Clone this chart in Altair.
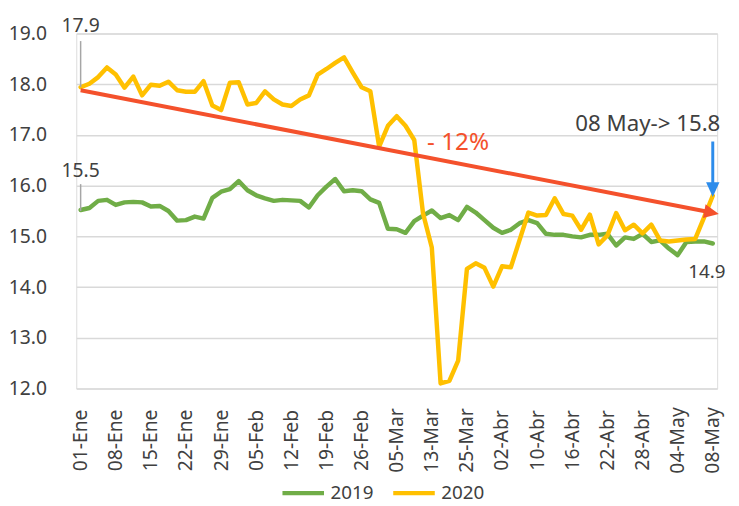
import math
import altair as alt
import pandas as pd

# ---------------- data ----------------
tick_labels = ["01-Ene", "08-Ene", "15-Ene", "22-Ene", "29-Ene", "05-Feb", "12-Feb",
               "19-Feb", "26-Feb", "05-Mar", "13-Mar", "25-Mar", "02-Abr", "10-Abr",
               "16-Abr", "22-Abr", "28-Abr", "04-May", "08-May"]

vals_2019 = [15.52, 15.56, 15.70, 15.72, 15.62, 15.67, 15.68, 15.67, 15.59, 15.60,
             15.50, 15.31, 15.32, 15.39, 15.35, 15.76, 15.88, 15.93, 16.09, 15.91,
             15.81, 15.75, 15.70, 15.72, 15.71, 15.70, 15.57, 15.81, 15.98, 16.13,
             15.89, 15.91, 15.89, 15.73, 15.66, 15.15, 15.14, 15.07, 15.30, 15.41,
             15.51, 15.36, 15.42, 15.32, 15.58, 15.47, 15.32, 15.17, 15.07, 15.13,
             15.26, 15.32, 15.26, 15.05, 15.03, 15.03, 15.00, 14.98, 15.03, 15.03,
             15.05, 14.82, 14.98, 14.95, 15.05, 14.89, 14.92, 14.76, 14.63, 14.89,
             14.90, 14.90, 14.86]

vals_2020 = [17.94, 18.01, 18.14, 18.33, 18.19, 17.93, 18.15, 17.78, 17.99, 17.97,
             18.05, 17.88, 17.85, 17.85, 18.06, 17.58, 17.49, 18.03, 18.04, 17.60,
             17.63, 17.86, 17.70, 17.60, 17.57, 17.70, 17.78, 18.19, 18.30, 18.42,
             18.53, 18.23, 17.94, 17.86, 16.77, 17.18, 17.37, 17.18, 16.90, 15.45,
             14.78, 12.10, 12.15, 12.55, 14.36, 14.47, 14.38, 14.01, 14.41, 14.39,
             14.93, 15.47, 15.41, 15.42, 15.75, 15.44, 15.41, 15.13, 15.43, 14.84,
             15.02, 15.46, 15.12, 15.23, 15.06, 15.23, 14.92, 14.90, 14.92, 14.94,
             14.95, 15.37, 15.80]

series_names = ["2019", "2020"]
series_colors = ["#70AD47", "#FFC000"]

# annotation values
trend_start = 17.88
trend_end_idx = 71.86
trend_end_val = 15.47
trend_text = "- 12%"
label_start_2020 = "17.9"
label_start_2019 = "15.5"
label_end_2019 = "14.9"
label_end_2020 = "08 May-> 15.8"
blue_top_val = 16.87
blue_head_val = 15.92

# ---------------- layout / styles ----------------
W, H = 648, 359
n = len(vals_2019)
FONT = "Noto Sans"
TXT = "#404040"
RED = "#F4512C"
BLUE = "#2D8CEB"
GRAY = "#A6A6A6"

px_per_idx = W / n
px_per_val = H / 7.0

df = pd.DataFrame({
    "i": list(range(n)) * 2,
    "v": vals_2019 + vals_2020,
    "s": [series_names[0]] * n + [series_names[1]] * n,
})

label_expr = "[" + ",".join('"%s"' % t for t in tick_labels) + "][round(datum.value/4)]"

x_enc = alt.X("i:Q",
              scale=alt.Scale(domain=[-0.5, n - 0.5], nice=False, zero=False),
              axis=alt.Axis(values=list(range(0, n, 4)), labelExpr=label_expr,
                            labelAngle=270, labelAlign="center", labelBaseline="middle",
                            labelPadding=52, ticks=False, tickSize=0, domain=False,
                            grid=False, title=None, labelFontSize=19.5,
                            labelColor=TXT, labelFont=FONT, labelOverlap=False,
                            labelFlush=False, labelBound=False, labelSeparation=0))
y_enc = alt.Y("v:Q",
              scale=alt.Scale(domain=[12, 19], nice=False, zero=False),
              axis=alt.Axis(values=list(range(12, 20)), format=".1f", grid=True,
                            gridColor="#D9D9D9", gridWidth=1.5, domain=False,
                            ticks=False, tickSize=0, labelPadding=30, title=None,
                            labelFontSize=19.5, labelColor=TXT, labelFont=FONT,
                            labelOverlap=False))

lines = alt.Chart(df).mark_line(strokeWidth=4.5, strokeJoin="round", strokeCap="round").encode(
    x=x_enc, y=y_enc,
    color=alt.Color("s:N", scale=alt.Scale(domain=series_names, range=series_colors),
                    legend=alt.Legend(orient="none", legendX=206, legendY=441,
                                      direction="horizontal", title=None,
                                      symbolType="stroke", symbolSize=1764,
                                      symbolStrokeWidth=4.5, labelFontSize=19,
                                      labelFont=FONT, labelColor=TXT, labelOffset=4,
                                      columnPadding=10, padding=0)),
    detail="s:N",
)

# trend arrow
trend_df = pd.DataFrame({"i": [0.0], "v": [trend_start], "i2": [trend_end_idx], "v2": [trend_end_val]})
trend = alt.Chart(trend_df).mark_rule(color=RED, strokeWidth=4).encode(
    x=x_enc, y=y_enc, x2="i2:Q", y2="v2:Q")
angle = math.degrees(math.atan2((trend_start - trend_end_val) * px_per_val,
                                trend_end_idx * px_per_idx))
head_df = pd.DataFrame({"i": [trend_end_idx], "v": [trend_end_val]})
trend_head = alt.Chart(head_df).mark_point(
    shape="M-1,-0.95L1,0L-1,0.95Z", filled=True, size=225, angle=angle,
    color=RED, opacity=1, strokeWidth=0).encode(x=x_enc, y=y_enc)

pct_df = pd.DataFrame({"i": [39.46], "v": [16.71], "t": [trend_text]})
pct = alt.Chart(pct_df).mark_text(align="left", baseline="alphabetic", fontSize=24.5,
                                  font=FONT, color=RED).encode(x=x_enc, y=y_enc, text="t:N")

# leader lines
lead_df = pd.DataFrame({"i": [0.0, 0.0], "v": [17.94, 15.50], "v2": [18.85, 16.03]})
leaders = alt.Chart(lead_df).mark_rule(color=GRAY, strokeWidth=1.5).encode(
    x=x_enc, y=y_enc, y2="v2:Q")

lab_df = pd.DataFrame({"i": [0.0, 0.0], "v": [19.02, 16.17],
                       "t": [label_start_2020, label_start_2019]})
labs = alt.Chart(lab_df).mark_text(align="center", baseline="alphabetic", fontSize=19.5,
                                   font=FONT, color=TXT).encode(x=x_enc, y=y_enc, text="t:N")

end19_df = pd.DataFrame({"i": [69.2], "v": [14.18], "t": [label_end_2019]})
end19 = alt.Chart(end19_df).mark_text(align="left", baseline="alphabetic", fontSize=19,
                                      font=FONT, color=TXT).encode(x=x_enc, y=y_enc, text="t:N")

end20_df = pd.DataFrame({"i": [64.6], "v": [17.08], "t": [label_end_2020]})
end20 = alt.Chart(end20_df).mark_text(align="center", baseline="alphabetic", fontSize=22.5,
                                      font=FONT, color=TXT).encode(x=x_enc, y=y_enc, text="t:N")

# blue arrow
blue_df = pd.DataFrame({"i": [72.0], "v": [blue_top_val], "v2": [blue_head_val]})
blue_line = alt.Chart(blue_df).mark_rule(color=BLUE, strokeWidth=3).encode(
    x=x_enc, y=y_enc, y2="v2:Q")
bhead_df = pd.DataFrame({"i": [72.0], "v": [blue_head_val]})
blue_head = alt.Chart(bhead_df).mark_point(
    shape="M-0.9,-1L0,1L0.9,-1Z", filled=True, size=225, color=BLUE,
    opacity=1, strokeWidth=0).encode(x=x_enc, y=y_enc)

chart = alt.layer(lines, leaders, labs, trend, trend_head, pct, end19, end20,
                  blue_line, blue_head).properties(
    width=W, height=H,
    autosize=alt.AutoSizeParams(type="none"),
    padding={"left": 69, "top": 23, "right": 14, "bottom": 116},
    background="white",
).configure_view(stroke=None).configure(font=FONT).configure_axisX(
    labelOverlap=False, labelSeparation=0)

chart.save("out.html", embed_options={"renderer": "svg", "actions": False})
